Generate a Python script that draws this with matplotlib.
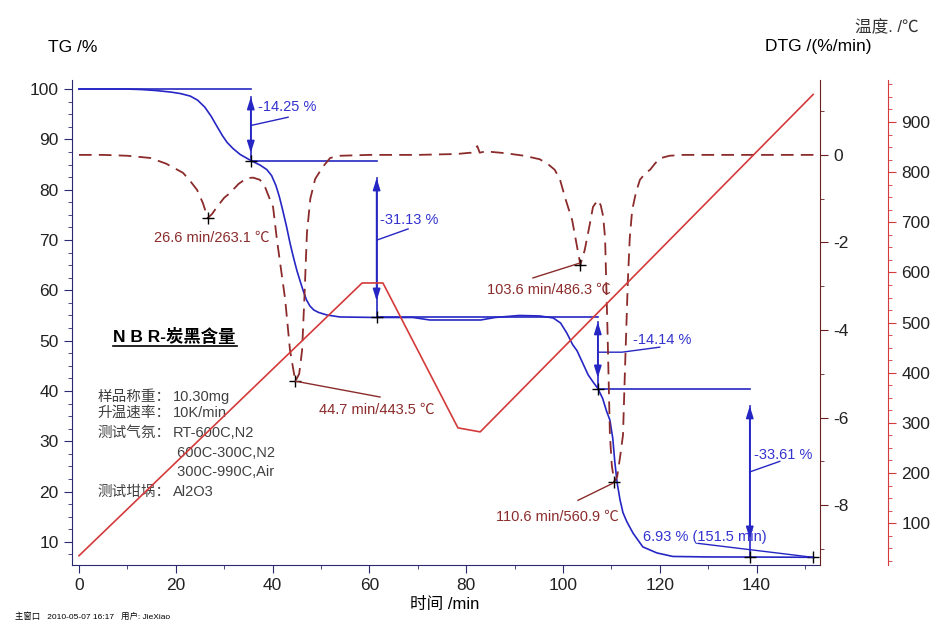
import matplotlib.pyplot as plt
from matplotlib.ticker import MultipleLocator

plt.rcParams['font.family'] = ['Liberation Sans', 'Noto Sans CJK SC', 'DejaVu Sans']
plt.rcParams['axes.unicode_minus'] = False

# TG curve (%)
tg_t = [0, 10, 13, 16, 19, 21, 23, 24.5, 26, 27.3, 28.5, 29.6, 30.6, 31.8, 33.3, 35.5,
        37.4, 38.8, 39.8, 40.7, 41.4, 42.1, 42.9, 43.6, 44.3, 45, 45.7, 46.3, 47, 47.7,
        48.5, 49.5, 51.2, 53.9, 61.5, 69, 72.5, 83, 86, 91, 95.2, 98, 99.5, 100.8, 102,
        102.9, 104.1, 105.2, 106.2, 107.2, 108.2, 109, 109.7, 110.3, 110.7, 111.2,
        111.8, 112.4, 113.2, 114.5, 116.5, 119.4, 122.7, 130, 140, 151.6]
tg_v = [100, 100, 99.9, 99.7, 99.4, 99.1, 98.6, 97.8, 96.4, 94.6, 92.6, 90.8, 89.4, 88.2,
        87.0, 85.8, 84.9, 84.0, 82.8, 80.8, 78.6, 75.9, 72.6, 69.4, 66.6, 64, 61.8, 60,
        58.1, 56.9, 56.1, 55.6, 55.1, 54.7, 54.6, 54.6, 54.1, 54.1, 54.6, 55.0, 54.9,
        54.5, 53.5, 51.5, 49.2, 48.0, 45.5, 43.2, 41.8, 40.5, 38.5, 36, 34.2, 30.5, 26,
        21.7, 18.3, 15.8, 14.0, 11.7, 9.0, 7.8, 7.1, 7.0, 6.98, 6.93]

# DTG curve (%/min)
dtg_t = [0, 5, 10, 14.7, 18, 21.5, 23, 24.4, 25.6, 26.6, 27.5, 28.5, 30, 31.2, 33,
         34.7, 36, 37.4, 38.5, 39.5, 40.1, 40.9, 42.6, 43.6, 44.7, 45.5, 46.1, 46.6,
         47.1, 47.8, 48.8, 50.4, 51.9, 54, 60, 70, 78, 81, 82.3, 82.8, 84, 88, 92,
         95.2, 97, 98.3, 99.4, 100.5, 101.9, 103.6, 104.5, 105.6, 106.2, 107.2, 107.8,
         108.3, 108.7, 109.2, 109.7, 110.1, 110.6, 111.2, 111.8, 112.4, 112.9, 113.4,
         113.8, 114.3, 115.1, 115.9, 117, 118, 119, 120, 122, 125, 153]
dtg_v = [0, 0, -0.02, -0.07, -0.2, -0.41, -0.6, -0.8, -1.1, -1.44, -1.35, -1.19, -0.98,
         -0.87, -0.66, -0.53, -0.52, -0.57, -0.75, -1.03, -1.19, -1.94, -3.3, -4.46,
         -5.17, -5.0, -4.46, -3.2, -1.78, -1.0, -0.55, -0.27, -0.07, -0.02, 0, 0, 0.02,
         0.05, 0.2, 0.05, 0.08, 0.04, -0.02, -0.1, -0.22, -0.34, -0.57, -1.0, -1.49,
         -2.51, -2.17, -1.55, -1.19, -1.03, -1.15, -1.4, -1.9, -4.0, -6.4, -7.1, -7.47,
         -7.35, -6.9, -6.4, -4.6, -2.9, -1.9, -1.26, -0.85, -0.57, -0.42, -0.34, -0.2,
         -0.08, -0.02, 0, 0]

# furnace temperature (C)
temp_t = [0, 58.5, 62.8, 78.3, 82.9, 151.7]
temp_v = [35, 579, 579, 290, 282, 955]

# mass-loss steps
step_t = [35.5, 61.5, 107.2, 138.6]
step_start = [0, 35.5, 61.5, 107.2]
step_level = [100.0, 85.75, 54.62, 40.48, 6.93]
arrow_top = [98.4, 82.3, 53.7, 37.0]
arrow_bot = [87.3, 57.9, 42.6, 10.6]
step_text = ['-14.25 %', '-31.13 %', '-14.14 %', '-33.61 %']
step_text_xy = [(37.0, 96.4), (62.2, 74.0), (114.5, 50.1), (139.5, 27.2)]
step_leaders = [([35.7, 43.2], [92.8, 94.4]),
                ([61.6, 68.0], [70.0, 72.2]),
                ([107.4, 112.2, 120.0], [47.7, 47.7, 48.7]),
                ([138.6, 144.8], [23.9, 26.0])]
tg_mark_t = [35.5, 61.5, 107.2, 138.6, 151.6]
tg_mark_v = [85.75, 54.62, 40.48, 6.98, 6.93]

# DTG peaks
peak_t = [26.6, 44.7, 103.6, 110.6]
peak_v = [-1.44, -5.17, -2.51, -7.47]
peak_text = ['26.6 min/263.1 ℃', '44.7 min/443.5 ℃', '103.6 min/486.3 ℃', '110.6 min/560.9 ℃']
peak_text_xy = [(27.5, -1.9), (61.6, -5.83), (97.1, -3.09), (98.8, -8.27)]
peak_leaders = [None,
                ([44.8, 62.2], [-5.17, -5.53]),
                ([103.5, 93.8], [-2.47, -2.81]),
                ([110.3, 103.1], [-7.5, -7.89])]

info_labels = ['样品称重：', '升温速率：', '测试气氛：', '', '', '测试坩埚：']
info_values = ['10.30mg', '10K/min', 'RT-600C,N2', ' 600C-300C,N2', ' 300C-990C,Air', 'Al2O3']
info_y = [38.8, 35.6, 31.6, 27.6, 23.9, 19.9]

BLUE = '#2626c4'
TXT_BLUE = '#3333d0'
DTG_C = '#8b2b2b'
TEMP_C = '#d43a3a'
AX_C = '#2a2a70'

fig = plt.figure(figsize=(9.52, 6.35), dpi=100)
ax = fig.add_axes([0.0756, 0.110, 0.7857, 0.764])
ax2 = ax.twinx()
ax3 = ax.twinx()

# TG
ax.plot(tg_t, tg_v, color=BLUE, lw=1.2)
for i in range(4):
    ax.plot([step_start[i], step_t[i]], [step_level[i], step_level[i]], color=BLUE, lw=1.2)
    ax.plot([step_t[i], step_t[i]], [min(arrow_top[i], step_level[i]), step_level[i + 1]],
            color=BLUE, lw=1.2)
    ax.annotate('', xy=(step_t[i], arrow_bot[i]), xytext=(step_t[i], arrow_top[i]),
                arrowprops=dict(arrowstyle='<|-|>,head_length=0.7,head_width=0.22',
                                color=BLUE, lw=1.2, shrinkA=0, shrinkB=0, mutation_scale=10))
    ax.plot(*step_leaders[i], color=BLUE, lw=1)
    ax.text(*step_text_xy[i], step_text[i], color=TXT_BLUE, fontsize=10.5, va='center', ha='left')
ax.plot(tg_mark_t, tg_mark_v, '+', color='black', ms=9, mew=1)
ax.plot([127.9, 151.6], [9.7, 6.93], color=BLUE, lw=1)
ax.text(116.5, 10.9, '6.93 % (151.5 min)', color=TXT_BLUE, fontsize=10.5, va='center', ha='left')

# DTG
ax2.plot(dtg_t, dtg_v, color=DTG_C, lw=1.3, ls=(0, (7, 4)))
ax2.plot(peak_t, peak_v, '+', color='black', ms=9, mew=1)
for i in range(4):
    if peak_leaders[i] is not None:
        ax2.plot(*peak_leaders[i], color=DTG_C, lw=1)
    ax2.text(*peak_text_xy[i], peak_text[i], color=DTG_C, fontsize=10.5, ha='center', va='center')

# temperature
ax3.plot(temp_t, temp_v, color=TEMP_C, lw=1.2)

# limits and ticks
ax.set_xlim(-1.45, 153.1)
ax.set_ylim(5.37, 101.8)
ax2.set_ylim(-9.37, 1.71)
ax3.set_ylim(16.2, 983.8)

ax.xaxis.set_major_locator(MultipleLocator(20))
ax.xaxis.set_minor_locator(MultipleLocator(10))
ax.yaxis.set_major_locator(MultipleLocator(10))
ax.yaxis.set_minor_locator(MultipleLocator(2.5))
ax2.yaxis.set_major_locator(MultipleLocator(2))
ax2.yaxis.set_minor_locator(MultipleLocator(1))
ax3.yaxis.set_major_locator(MultipleLocator(100))
ax3.yaxis.set_minor_locator(MultipleLocator(25))

for a in (ax, ax2, ax3):
    a.spines['top'].set_visible(False)
ax.spines['right'].set_visible(False)
for a in (ax2, ax3):
    a.spines['left'].set_visible(False)
    a.spines['bottom'].set_visible(False)
ax3.spines['right'].set_position(('axes', 1.091))
ax.spines['left'].set_color(AX_C)
ax.spines['bottom'].set_color(AX_C)
ax2.spines['right'].set_color('#6b2020')
ax3.spines['right'].set_color(TEMP_C)

ax.tick_params(which='both', colors=AX_C, labelcolor='#222222', labelsize=12.5, direction='out')
ax.tick_params(which='major', length=6)
ax.tick_params(which='minor', length=3)
ax2.tick_params(which='both', colors='#6b2020', labelcolor='#222222', labelsize=12.5)
ax2.tick_params(which='major', length=6)
ax2.tick_params(which='minor', length=3)
ax3.tick_params(which='both', colors=TEMP_C, labelcolor='#222222', labelsize=12.5)
ax3.tick_params(which='major', length=6)
ax3.tick_params(which='minor', length=3)

# axis titles
fig.text(48 / 952, 1 - 47 / 635, 'TG /%', fontsize=12.5, ha='left', va='center')
fig.text(765 / 952, 1 - 47 / 635, 'DTG /(%/min)', fontsize=12.5, ha='left', va='center')
fig.text(855 / 952, 1 - 27 / 635, '温度. /℃', fontsize=12, ha='left', va='center', color='#333333')
fig.text(445 / 952, 1 - 604 / 635, '时间 /min', fontsize=12, ha='center', va='center')
fig.text(15 / 952, 1 - 617 / 635, '主窗口   2010-05-07 16:17   用户: JieXiao', fontsize=6,
         ha='left', va='center')

# sample info block
ax.text(7.0, 50.9, 'N B R-炭黑含量', fontsize=12.5, fontweight='bold', ha='left', va='center')
ax.plot([7.0, 32.6], [49.0, 49.0], color='black', lw=1.2)
for lab, val, y in zip(info_labels, info_values, info_y):
    ax.text(3.9, y, lab, fontsize=10.5, color='#404040', ha='left', va='center')
    ax.text(19.4, y, val, fontsize=10.5, color='#404040', ha='left', va='center')

fig.savefig('out.png', dpi=100)
